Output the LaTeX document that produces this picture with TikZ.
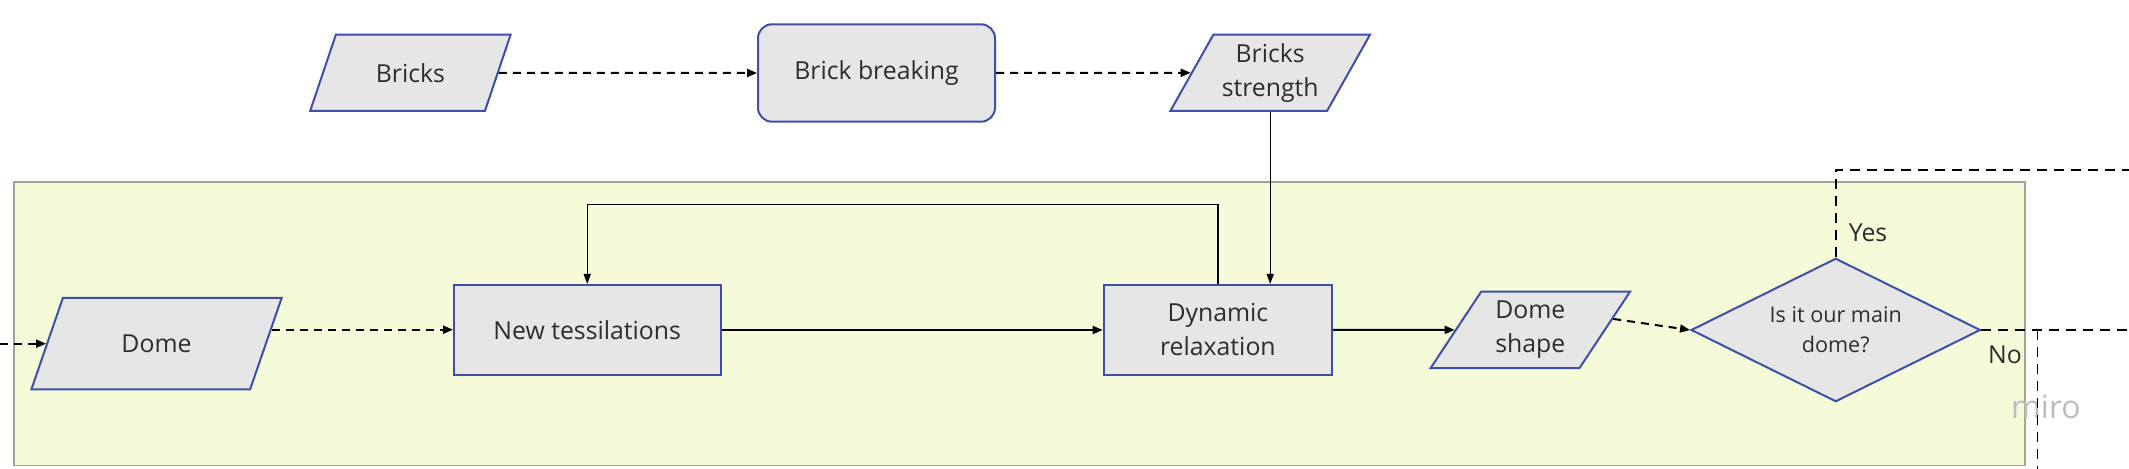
\documentclass[tikz,border=0pt]{standalone}
\usepackage{fontspec}
\setmainfont{Open Sans}
\usetikzlibrary{shapes.geometric,arrows.meta,calc}
\definecolor{boxfill}{RGB}{230,230,230}
\definecolor{boxline}{RGB}{64,78,170}
\definecolor{zonefill}{RGB}{245,250,216}
\definecolor{zoneline}{RGB}{160,165,150}
\definecolor{txt}{RGB}{45,45,45}
\definecolor{wmark}{RGB}{188,188,198}
\newcommand{\mainsize}{\fontsize{12.4pt}{17pt}\selectfont}
\newcommand{\smallsize}{\fontsize{10.8pt}{15pt}\selectfont}
\tikzset{
  base/.style={draw=boxline, fill=boxfill, line width=1pt, inner sep=0pt, text=txt, align=center, font=\mainsize},
  datastyle/.style={base, trapezium, trapezium left angle=58, trapezium right angle=122,
    trapezium stretches=true, minimum width=100.3pt, minimum height=38.2pt},
  procstyle/.style={base, rectangle, minimum height=45pt},
  roundstyle/.style={base, rectangle, rounded corners=7pt},
  decstyle/.style={base, diamond, aspect=2, font=\smallsize, minimum width=144.7pt, minimum height=71.7pt},
  zone/.style={draw=zoneline, fill=zonefill, line width=0.6pt},
  solidarrow/.style={line width=1pt, -{Triangle[length=5pt,width=4pt]}},
  thinarrow/.style={line width=0.7pt, -{Triangle[length=5pt,width=3.5pt]}},
  dashedarrow/.style={line width=1pt, dash pattern=on 4pt off 3pt, -{Triangle[length=5pt,width=4pt]}},
  dashedline/.style={line width=0.8pt, dash pattern=on 5pt off 3.5pt},
  lbl/.style={text=txt, font=\mainsize, inner sep=0pt},
}
\begin{document}
\begin{tikzpicture}[x=0.5pt,y=-0.5pt]
\useasboundingbox (0,0) rectangle (2129,469);
\draw[zone] (14,182) rectangle (2025,465.7);

\node[datastyle] (bricks) at (410.4,72.8) {Bricks};
\node[roundstyle, minimum width=118.5pt, minimum height=48.7pt] (brickbreak) at (876.5,73) {Brick breaking};
\node[datastyle] (strength) at (1270.2,72.8) {Bricks\\strength};
\node[datastyle, minimum width=125.5pt, minimum height=45.7pt, trapezium left angle=56.7, trapezium right angle=123.3] (dome) at (156.5,343.7) {Dome};
\node[procstyle, minimum width=133.25pt] (newtess) at (587.25,330) {New tessilations};
\node[procstyle, minimum width=114.2pt] (dynrel) at (1217.9,330) {Dynamic\\relaxation};
\node[datastyle] (domeshape) at (1530.3,329.9) {Dome\\shape};
\node[decstyle] (decision) at (1835.7,330) {Is it our main\\dome?};

\coordinate (entry) at (0,343.7);
\coordinate (looptop) at (0,204.7);
\coordinate (yesend) at (2129,170);
\coordinate (noend) at (2129,330);
\coordinate (droptop) at (2037.5,330);
\coordinate (dropbot) at (2037.5,469);
\coordinate (domeout) at ($(dome.bottom right corner)!0.65!(dome.top right corner)$);
\coordinate (shapeout) at ($(domeshape.bottom right corner)!0.64!(domeshape.top right corner)$);

\node[text=wmark, font=\fontsize{16pt}{18pt}\selectfont, inner sep=0pt] (miro) at (2046,407) {miro};

\draw[dashedarrow] (bricks.right side) -- (brickbreak.west);
\draw[dashedarrow] (brickbreak.east) -- (strength.left side);
\draw[thinarrow] (strength.center |- strength.south) -- (strength.center |- dynrel.north);
\draw[thinarrow] (dynrel.north) -- (dynrel.north |- looptop) -| (newtess.north);
\draw[dashedarrow] (entry) -- (dome.left side);
\draw[dashedarrow] (domeout) -- (domeout -| newtess.west);
\draw[solidarrow] (newtess.east) -- (dynrel.west);
\draw[solidarrow] (dynrel.east) -- (domeshape.left side);
\draw[dashedarrow] (shapeout) -- (decision.west);
\draw[dashedline] (decision.north) |- (yesend);
\draw[dashedline] (decision.east) -- (noend);
\draw[dashedline] (droptop) -- (dropbot);

\node[lbl] (yes) at (1868,233) {Yes};
\node[lbl] (no) at (2005,355) {No};
\end{tikzpicture}
\end{document}
